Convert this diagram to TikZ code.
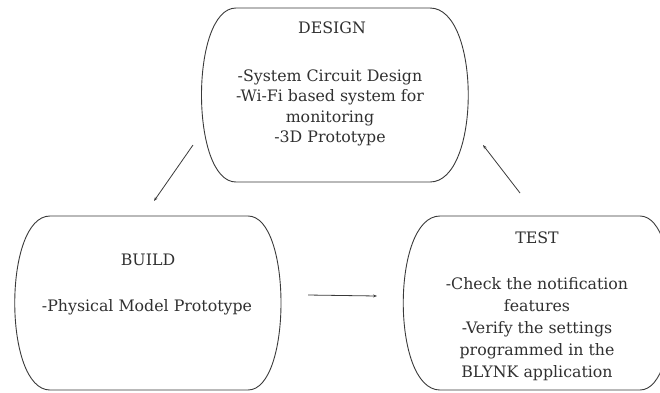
\documentclass[tikz,border=0pt]{standalone}
\usepackage{fontspec}
\setmainfont{DejaVu Serif}
\usetikzlibrary{arrows.meta}
\definecolor{ink}{HTML}{3A3A3A}
\definecolor{textink}{HTML}{303030}
\tikzset{
  blob/.style={draw=ink, line width=0.9pt},
  txt/.style={text=textink, font=\fontsize{15.8}{20.5}\selectfont, align=center, inner sep=0pt},
  flow/.style={draw=ink, line width=0.8pt, -{Stealth[length=4pt,width=3pt]}}
}
\begin{document}
\begin{tikzpicture}[x=1pt,y=-1pt]
\useasboundingbox (0,0) rectangle (660,392);
\begin{scope}
\clip (0,0) rectangle (660,392);
% DESIGN box
\draw[blob] (236,8) -- (430,8) .. controls (481,8) and (481,182) .. (430,182)
  -- (236,182) .. controls (190,182) and (190,8) .. (236,8);
% BUILD box
\draw[blob] (50,216) -- (248,216) .. controls (292,216) and (292,390) .. (248,390)
  -- (50,390) .. controls (3,390) and (3,216) .. (50,216);
% TEST box
\draw[blob] (440,216) -- (640,216) .. controls (683,216) and (683,390) .. (640,390)
  -- (440,390) .. controls (391,390) and (391,216) .. (440,216);
\end{scope}
% texts
\node[txt] (dt) at (332,28) {DESIGN};
\node[txt] (db) at (330,108) {-System Circuit Design\\-Wi-Fi based system for\\monitoring\\-3D Prototype};
\node[txt] (bt) at (148,260) {BUILD};
\node[txt] (bb) at (147,307) {-Physical Model Prototype};
\node[txt] (tt) at (537,238) {TEST};
\node[txt, font=\fontsize{15.8}{22}\selectfont] (tb) at (537,329) {-Check the notification\\features\\-Verify the settings\\programmed in the\\BLYNK application};
% arrow ends
\coordinate (a1) at (193,145);
\coordinate (a2) at (154,201);
\coordinate (b1) at (308,295);
\coordinate (b2) at (377,296);
\coordinate (c1) at (520,193);
\coordinate (c2) at (483,145);
\draw[flow] (a1) -- (a2);
\draw[flow] (b1) -- (b2);
\draw[flow] (c1) -- (c2);
\end{tikzpicture}
\end{document}
